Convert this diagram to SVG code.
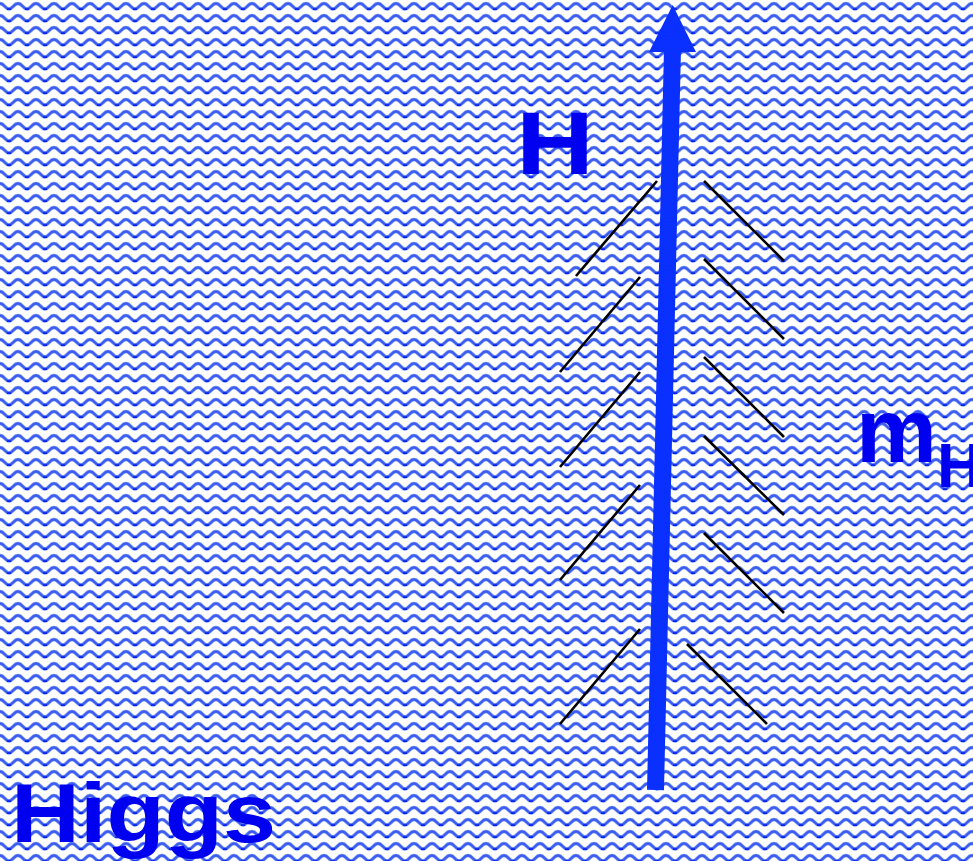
<svg xmlns="http://www.w3.org/2000/svg" width="973" height="861" viewBox="0 0 973 861">
  <style>
    .lbl { font-family: "Liberation Sans", Arial, sans-serif; font-weight: bold; fill: #0000f0; }
    .tick { stroke: #000; stroke-width: 2.6; stroke-linecap: butt; fill: none; }
  </style>
  <defs>
    <pattern id="wave" x="0" y="0" width="18" height="12" patternUnits="userSpaceOnUse">
      <rect width="18" height="12" fill="#ffffff"/>
      <path d="M-9,9 C-5,9 -4.5,3.5 0,3.5 C4.5,3.5 5,9 9,9 C13,9 13.5,3.5 18,3.5 C22.5,3.5 23,9 27,9" fill="none" stroke="#6a86f2" stroke-width="3.4"/>
      <path d="M-9,9 C-5,9 -4.5,3.5 0,3.5 C4.5,3.5 5,9 9,9 C13,9 13.5,3.5 18,3.5 C22.5,3.5 23,9 27,9" fill="none" stroke="#3a5cf0" stroke-width="1.8"/>
      <rect x="7" y="8.2" width="4" height="1.8" fill="#0a28f0"/>
    </pattern>
  </defs>
  <rect id="background" width="973" height="861" fill="url(#wave)"/>

  <g id="connectors">
    <g id="higgs-arrow">
      <line x1="655.5" y1="790" x2="672.5" y2="48" stroke="#0a30ff" stroke-width="17"/>
      <polygon points="672.7,5 649,52 696,52" fill="#0a30ff"/>
    </g>
    <g id="ticks-left">
      <line class="tick" x1="657" y1="181" x2="576" y2="276"/>
      <line class="tick" x1="640" y1="277" x2="560" y2="372"/>
      <line class="tick" x1="640" y1="372" x2="560" y2="467"/>
      <line class="tick" x1="640" y1="485" x2="560" y2="580"/>
      <line class="tick" x1="640" y1="629" x2="560" y2="724"/>
    </g>
    <g id="ticks-right">
      <line class="tick" x1="704" y1="181" x2="784" y2="261"/>
      <line class="tick" x1="704" y1="259" x2="784" y2="339"/>
      <line class="tick" x1="704" y1="357" x2="784" y2="437"/>
      <line class="tick" x1="704" y1="436" x2="784" y2="515"/>
      <line class="tick" x1="704" y1="533" x2="784" y2="613"/>
      <line class="tick" x1="687" y1="644" x2="767" y2="724"/>
    </g>
  </g>

  <g id="label-H">
    <text class="lbl" x="516" y="174" font-size="89" textLength="78" lengthAdjust="spacingAndGlyphs">H</text>
  </g>
  <g id="label-mH">
    <text class="lbl" x="856" y="462" font-size="91">m</text>
    <text class="lbl" x="937" y="487" font-size="63">H</text>
  </g>
  <g id="label-Higgs">
    <text class="lbl" x="11" y="842" font-size="84" textLength="265" lengthAdjust="spacingAndGlyphs">Higgs</text>
  </g>
</svg>
